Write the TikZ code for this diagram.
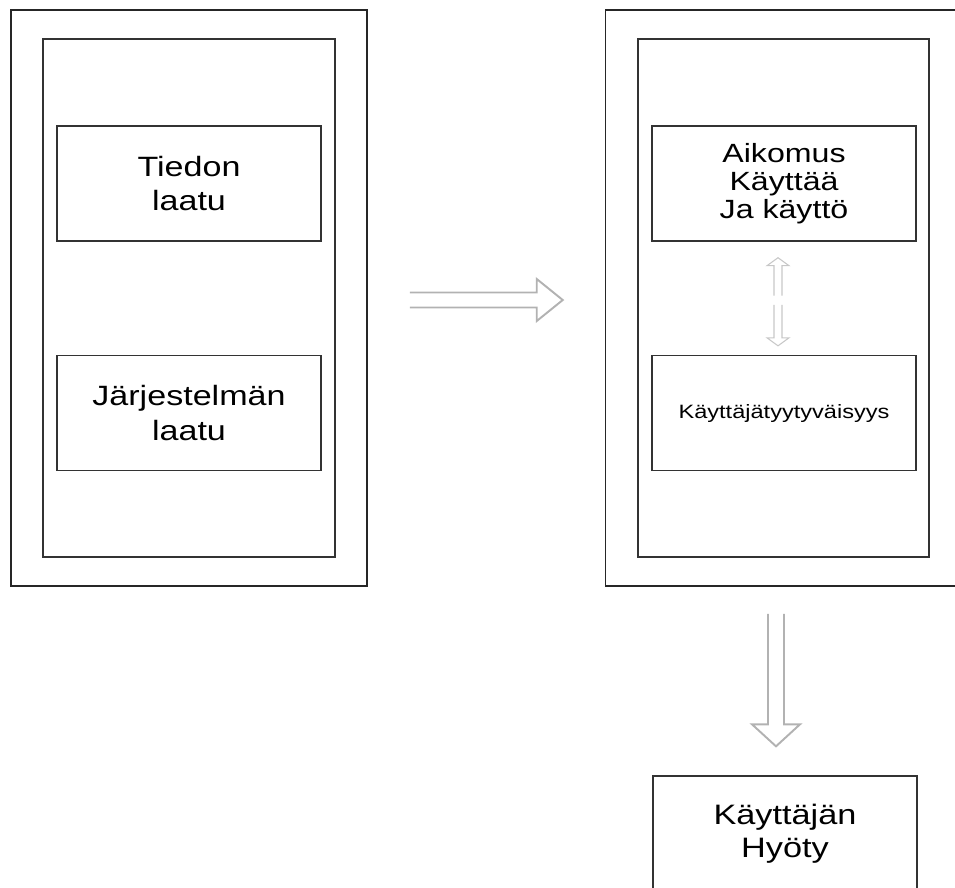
\documentclass[tikz,border=0pt]{standalone}
\usepackage{fontspec}
\setmainfont[FakeStretch=1.22]{Liberation Sans}
\usetikzlibrary{calc}

\tikzstyle{outer} = [rectangle, draw=black!85, line width=0.9pt, minimum width=7.12cm, minimum height=11.52cm]
\tikzstyle{inner} = [rectangle, draw=black!80, line width=0.9pt, minimum width=5.84cm, minimum height=10.36cm]
\tikzstyle{box} = [rectangle, draw=black!80, line width=0.8pt, minimum width=5.28cm, minimum height=2.3cm, text centered, align=center, font=\fontsize{15.9}{19.8}\selectfont]
\tikzstyle{hollow} = [draw=black!30, line width=1.1pt, line join=miter]
\tikzstyle{thinhollow} = [draw=black!22, line width=0.6pt, line join=miter]

\begin{document}
\begin{tikzpicture}[x=0.02cm, y=-0.02cm]
\useasboundingbox (0,0) rectangle (955,887);
\clip (0,0) rectangle (955,887);

% left panel
\node (leftouter) [outer] at (189,298) {};
\node (leftinner) [inner] at (189,298) {};
\node (tiedon) [box] at (189,183.5) {Tiedon\\laatu};
\node (jarj) [box] at (189,413) {Järjestelmän\\laatu};

% right panel
\node (rightouter) [outer] at (783.5,298) {};
\node (rightinner) [inner, minimum width=5.82cm] at (783.5,298) {};
\node (aikomus) [box, font=\fontsize{15}{16}\selectfont] at (784,183.5) {Aikomus\\Käyttää\\Ja käyttö};
\node (tyyty) [box, font=\fontsize{11}{13}\selectfont] at (784,413) {Käyttäjätyytyväisyys};

% result
\node (hyoty) [box, font=\fontsize{16}{18.7}\selectfont] at (785,833.5) {Käyttäjän\\Hyöty};

% left -> right
\coordinate (h0) at ($(leftouter.east)+(42,2)$);
\coordinate (h1) at ($(rightouter.west)+(-42,2)$);
\draw [hollow] ($(h0)+(0,-7.5)$) -- ($(h1)+(-26,-7.5)$) -- ($(h1)+(-26,-21)$) -- (h1)
  -- ($(h1)+(-26,21)$) -- ($(h1)+(-26,7.5)$) -- ($(h0)+(0,7.5)$);

% aikomus <-> tyytyvaisyys
\coordinate (u1) at ($(aikomus.south)+(-6,16)$);
\coordinate (d1) at ($(tyyty.north)+(-6,-9)$);
\draw [thinhollow] ($(u1)+(-4,38)$) -- ($(u1)+(-4,8)$) -- ($(u1)+(-11,8)$) -- (u1)
  -- ($(u1)+(11,8)$) -- ($(u1)+(4,8)$) -- ($(u1)+(4,38)$);
\draw [thinhollow] ($(d1)+(-4,-41)$) -- ($(d1)+(-4,-8)$) -- ($(d1)+(-11,-8)$) -- (d1)
  -- ($(d1)+(11,-8)$) -- ($(d1)+(4,-8)$) -- ($(d1)+(4,-41)$);

% right -> hyoty
\coordinate (v0) at ($(rightouter.south)+(-7.5,27)$);
\coordinate (v1) at ($(hyoty.north)+(-9,-29)$);
\draw [hollow] ($(v0)+(-8,0)$) -- ($(v1)+(-8,-22)$) -- ($(v1)+(-24,-22)$) -- (v1)
  -- ($(v1)+(24,-22)$) -- ($(v1)+(8,-22)$) -- ($(v0)+(8,0)$);

\end{tikzpicture}
\end{document}
